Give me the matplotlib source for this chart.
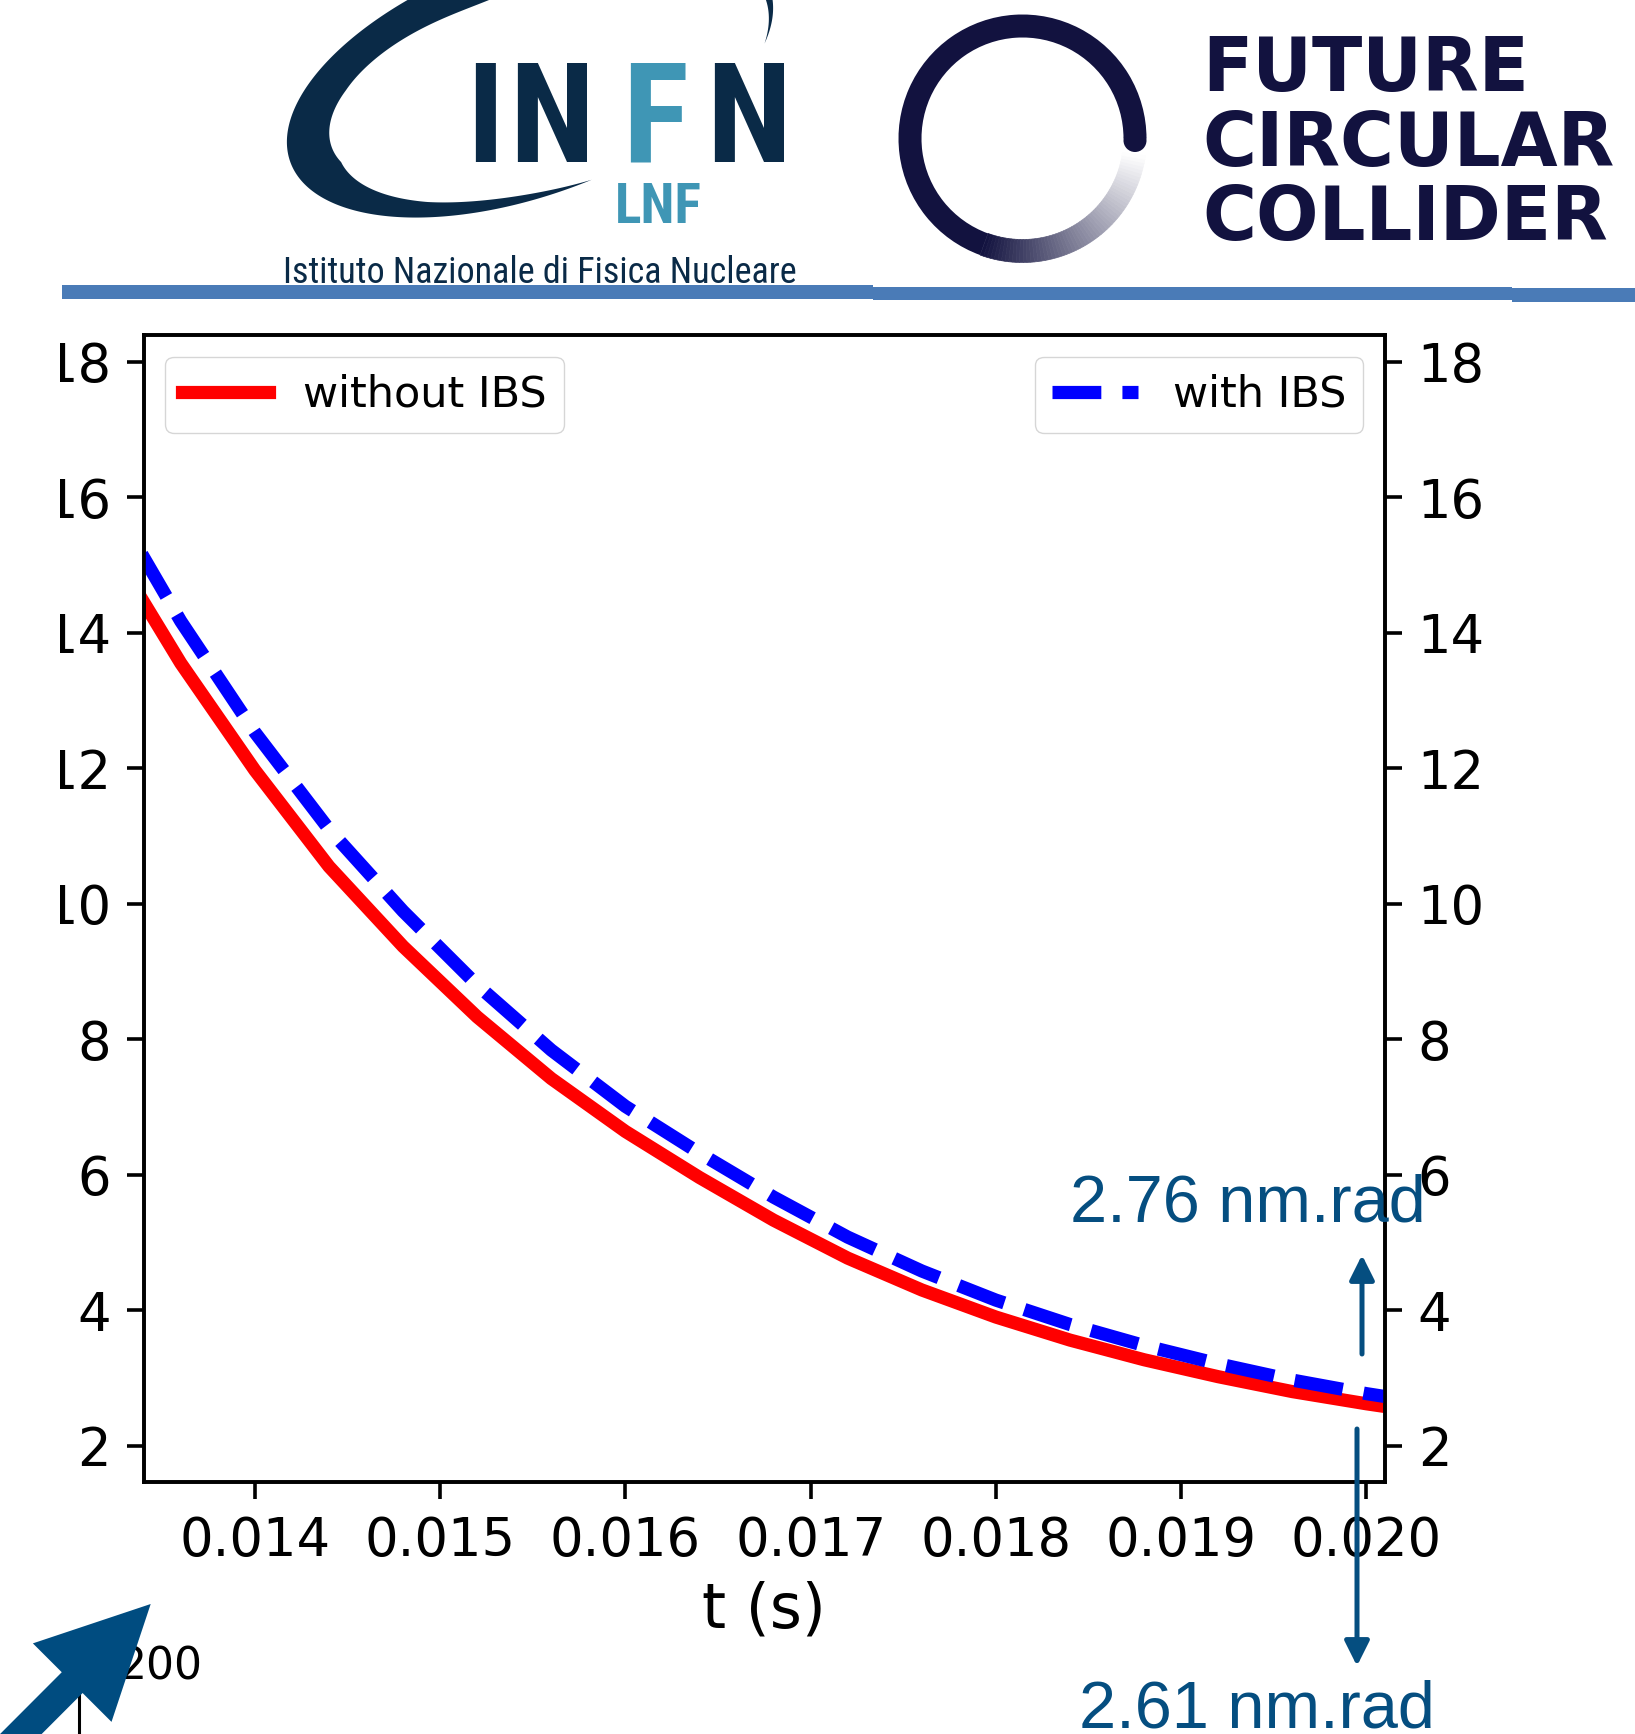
import numpy as np
import matplotlib
matplotlib.use("Agg")
import matplotlib.pyplot as plt
import matplotlib.transforms as mtransforms
from matplotlib.patches import Rectangle, Wedge, Circle, Polygon, FancyArrowPatch, ArrowStyle
from matplotlib.lines import Line2D
from matplotlib.colors import to_rgb

W, H = 1635, 1734
plt.rcParams["font.family"] = "DejaVu Sans"
plt.rcParams["axes.linewidth"] = 2.6

# emittance (nm.rad) vs time
t_s = [0.0132, 0.0136, 0.0140, 0.0144, 0.0148, 0.0152, 0.0156, 0.0160, 0.0164, 0.0168,
       0.0172, 0.0176, 0.0180, 0.0184, 0.0188, 0.0192, 0.0196, 0.0200, 0.0204]
emit_without_ibs = [15.35, 13.55, 11.97, 10.55, 9.37, 8.33, 7.42, 6.64, 5.96, 5.33,
                    4.77, 4.30, 3.90, 3.56, 3.27, 3.02, 2.80, 2.62, 2.46]
emit_with_ibs = [16.05, 14.17, 12.53, 11.10, 9.89, 8.80, 7.84, 7.01, 6.32, 5.67,
                 5.08, 4.58, 4.15, 3.79, 3.48, 3.21, 2.97, 2.77, 2.60]
x_ticks = [0.014, 0.015, 0.016, 0.017, 0.018, 0.019, 0.020]
y_ticks = [2, 4, 6, 8, 10, 12, 14, 16, 18]
final_with = "2.76 nm.rad"
final_without = "2.61 nm.rad"

NAVY = "#0a2a47"
TEAL = "#3f96b5"
FCC_NAVY = "#12123f"
ANNOT = "#054e80"
NARROW = ["Liberation Sans Narrow", "Roboto Condensed", "DejaVu Sans"]

fig = plt.figure(figsize=(W / 100, H / 100), dpi=100)
# pixel coords, origin top-left
PX = mtransforms.Affine2D().scale(1 / W, -1 / H).translate(0, 1) + fig.transFigure

# ---- main plot
ax = fig.add_axes([0.08789, 0.14533, 0.75920, 0.66148])
ax.plot(t_s, emit_without_ibs, color="red", lw=9.5, label="without IBS")
ax.set_xlim(0.0134, 0.0201)
ax.set_ylim(1.466, 18.394)
ax.set_xticks(x_ticks)
ax.set_yticks(y_ticks)
ax.tick_params(length=12.5, width=2.6, pad=11, labelsize=38)
ax.set_xlabel("t (s)", fontsize=44.4, labelpad=10)
ax.legend(loc="upper left", fontsize=31)

ax2 = ax.twinx()
ax2.plot(t_s, emit_with_ibs, color="blue", lw=9.5, ls="--", label="with IBS")
ax2.set_ylim(ax.get_ylim())
ax2.set_yticks(y_ticks)
ax2.tick_params(length=12.5, width=2.6, pad=11, labelsize=38)
ax2.legend(loc="upper right", fontsize=31)

# slide crops the left tick labels
clip = mtransforms.TransformedBbox(mtransforms.Bbox([[60 / W, 0], [1, 1]]), fig.transFigure)
for lab in ax.get_yticklabels():
    lab.set_clip_box(clip)
    lab.set_clip_on(True)

# ---- header band
for x0, x1, y0, y1 in [(62, 873, 285, 299), (873, 1512, 287, 300), (1512, 1635, 288, 302)]:
    fig.add_artist(Rectangle((x0, y0), x1 - x0, y1 - y0, transform=PX, color="#4a7bb7", lw=0))

# ---- INFN logo
tt = np.radians(np.linspace(-25, 275, 400))
cx, cy, A, B, phi = 530, 75, 255, 120, np.radians(20)
xo = A * np.cos(tt) * np.cos(phi) - B * np.sin(tt) * np.sin(phi)
yo = A * np.cos(tt) * np.sin(phi) + B * np.sin(tt) * np.cos(phi)
wd = np.interp(np.degrees(tt), [-25, 20, 90, 150, 190, 232, 260, 275], [0, 15, 35, 44, 44, 20, 7, 0])
rr = np.hypot(xo, yo)
outer = np.column_stack([cx + xo, cy - yo])
inner = np.column_stack([cx + xo * (1 - wd / rr), cy - yo * (1 - wd / rr)])[::-1]
fig.add_artist(Polygon(np.vstack([outer, inner]), closed=True, transform=PX, color=NAVY, lw=0))

for ch, xc, col in zip("INFN", [485, 552, 655, 749], [NAVY, NAVY, TEAL, NAVY]):
    fig.text(xc, 162, ch, transform=PX, ha="center", va="baseline", fontsize=100,
             fontweight="black", fontstretch="condensed", family=NARROW, color=col)
fig.text(658, 223, "LNF", transform=PX, ha="center", va="baseline", fontsize=40,
         fontweight="bold", fontstretch="condensed", family=NARROW, color=TEAL)
fig.text(540, 283, "Istituto Nazionale di Fisica Nucleare", transform=PX, ha="center",
         va="baseline", fontsize=26, fontstretch="condensed", family=NARROW, color=NAVY)

# ---- FCC logo
rc, R, rw = (1022.5, 138.5), 124, 23
fig.add_artist(Wedge(rc, R, 110, 360, width=rw, transform=PX, color=FCC_NAVY, lw=0))
fig.add_artist(Circle((rc[0] + R - rw / 2, rc[1] + 2), rw / 2, transform=PX, color=FCC_NAVY, lw=0))
dark, white = np.array(to_rgb(FCC_NAVY)), np.ones(3)
angs = np.linspace(110, 8, 61)
for i in range(60):
    f = (i + 0.5) / 60
    col = dark * (1 - f) + white * f
    fig.add_artist(Wedge(rc, R, angs[i + 1], angs[i], width=rw, transform=PX,
                         fc=col, ec=col, lw=0.5))
for word, yb in [("FUTURE", 91), ("CIRCULAR", 166), ("COLLIDER", 240)]:
    fig.text(1202, yb, word, transform=PX, ha="left", va="baseline", fontsize=53,
             fontweight="bold", color=FCC_NAVY)

# ---- annotations
small = ArrowStyle("-|>", head_length=15, head_width=7.5)
fig.add_artist(FancyArrowPatch((1362, 1354), (1362, 1255), transform=PX, arrowstyle=small,
                               mutation_scale=1, color=ANNOT, lw=3.6, shrinkA=0, shrinkB=0))
fig.add_artist(FancyArrowPatch((1357, 1429), (1357, 1666), transform=PX, arrowstyle=small,
                               mutation_scale=1, color=ANNOT, lw=3.6, shrinkA=0, shrinkB=0))
fig.text(1070, 1221, final_with, transform=PX, ha="left", va="baseline", fontsize=48,
         family="Liberation Sans", color=ANNOT)
fig.text(1079, 1727, final_without, transform=PX, ha="left", va="baseline", fontsize=48,
         family="Liberation Sans", color=ANNOT)

# bits of the next plot peeking in at the bottom left
fig.text(203, 1680, "200", transform=PX, ha="right", va="baseline", fontsize=31.7)
fig.add_artist(Line2D([78.5, 78.5], [1693, 1740], transform=PX, color="black", lw=2.2))
big = ArrowStyle("simple", head_length=0.8, head_width=0.8, tail_width=0.212)
fig.add_artist(FancyArrowPatch((-49, 1804), (150.7, 1604), transform=PX, arrowstyle=big,
                               mutation_scale=100, color="#004c80", lw=0,
                               shrinkA=0, shrinkB=0, zorder=5))

fig.savefig("out.png", dpi=100)
